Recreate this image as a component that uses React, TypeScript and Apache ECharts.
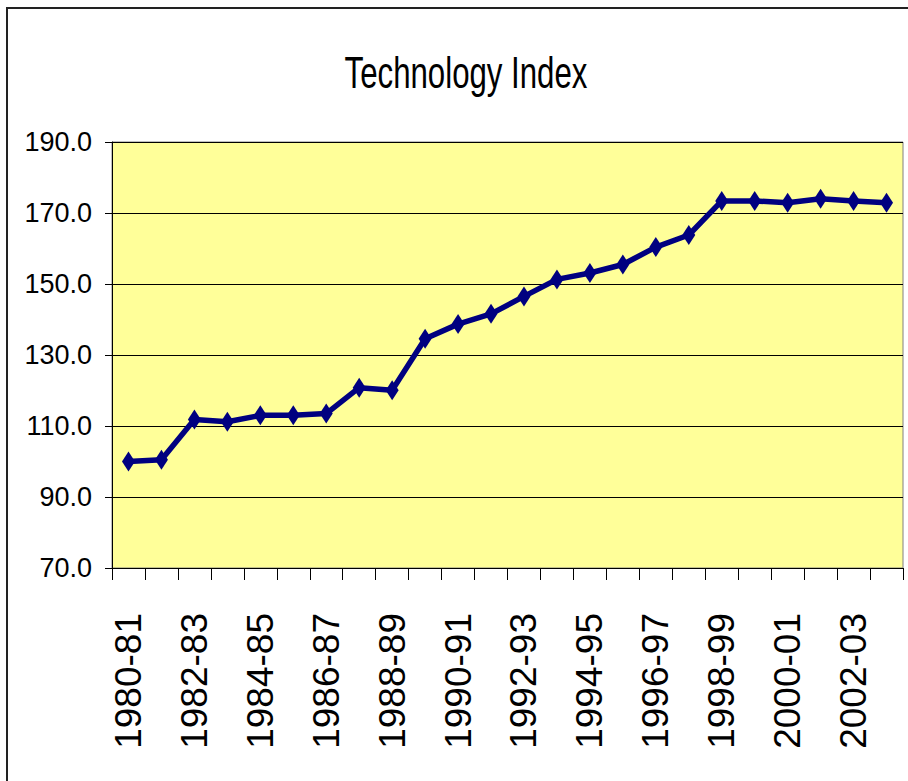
import React, { useEffect, useRef } from "react";
import * as echarts from "echarts";

const categories = [
  "1980-81", "1981-82", "1982-83", "1983-84", "1984-85", "1985-86",
  "1986-87", "1987-88", "1988-89", "1989-90", "1990-91", "1991-92",
  "1992-93", "1993-94", "1994-95", "1995-96", "1996-97", "1997-98",
  "1998-99", "1999-00", "2000-01", "2001-02", "2002-03", "2003-04",
];

const indexValues = [
  100.0, 100.5, 111.8, 111.2, 113.0, 113.0,
  113.5, 120.8, 120.1, 134.6, 138.7, 141.6,
  146.5, 151.3, 153.1, 155.5, 160.4, 163.8,
  173.4, 173.4, 172.9, 174.0, 173.4, 172.9,
];

const chartTitle = "Technology Index";
const yMin = 70;
const yMax = 190;
const yStep = 20;

const FONT = "'Liberation Sans', Arial, sans-serif";

export default function App() {
  const ref = useRef<HTMLDivElement>(null);

  useEffect(() => {
    if (!ref.current) return;
    const chart = echarts.init(ref.current, undefined, { renderer: "svg" });
    chart.setOption({
      animation: false,
      backgroundColor: "#ffffff",
      graphic: [
        {
          type: "rect",
          shape: { x: 7, y: 8, width: 1200, height: 1200 },
          style: { fill: "none", stroke: "#222222", lineWidth: 2 },
          silent: true,
        },
        {
          type: "text",
          x: 466,
          y: 72,
          scaleX: 0.78,
          scaleY: 1.12,
          style: {
            text: chartTitle,
            fontFamily: FONT,
            fontSize: 40,
            fill: "#000000",
            align: "center",
            verticalAlign: "middle",
          },
          silent: true,
        },
      ],
      grid: {
        left: 112,
        top: 142,
        right: 5,
        bottom: 213,
        show: true,
        backgroundColor: "#FFFF99",
        borderColor: "#808080",
        borderWidth: 1,
      },
      xAxis: {
        type: "category",
        data: categories,
        boundaryGap: true,
        axisLine: { show: true, lineStyle: { color: "#000000", width: 1 } },
        axisTick: {
          show: true,
          interval: 0,
          length: 12,
          lineStyle: { color: "#000000", width: 1 },
        },
        axisLabel: {
          interval: 1,
          rotate: 90,
          margin: 45,
          fontFamily: FONT,
          fontSize: 37,
          color: "#000000",
        },
        splitLine: { show: false },
      },
      yAxis: {
        type: "value",
        min: yMin,
        max: yMax,
        interval: yStep,
        axisLine: { show: true, lineStyle: { color: "#000000", width: 1 } },
        axisTick: { show: true, length: 7, lineStyle: { color: "#000000" } },
        axisLabel: {
          margin: 20,
          fontFamily: FONT,
          fontSize: 27,
          color: "#000000",
          formatter: (v: number) => v.toFixed(1),
        },
        splitLine: { show: true, lineStyle: { color: "#000000", width: 1 } },
      },
      series: [
        {
          type: "line",
          data: indexValues,
          symbol: "diamond",
          symbolSize: [13, 20],
          lineStyle: { color: "#000080", width: 5.5 },
          itemStyle: { color: "#000080" },
        },
      ],
    });
    return () => chart.dispose();
  }, []);

  return (
    <div
      ref={ref}
      style={{ position: "fixed", left: 0, top: 0, width: 908, height: 781 }}
    />
  );
}
